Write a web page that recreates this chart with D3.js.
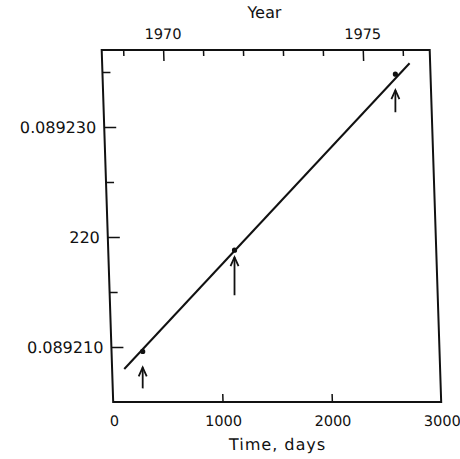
<!DOCTYPE html>
<html>
<head>
<meta charset="utf-8">
<script src="https://cdn.jsdelivr.net/npm/d3@7/dist/d3.min.js"></script>
<style>
  html, body { margin: 0; padding: 0; background: #fff; }
  svg text { font-family: "DejaVu Sans", sans-serif; fill: #111; }
</style>
</head>
<body>
<svg id="chart" width="460" height="459"></svg>
<script>
// Observed epochs (days since start of series) and measured values
const obsDays   = [285, 1155, 2679];
const obsValues = [0.0892096, 0.0892188, 0.0892348];

// Least-squares line through the observations, drawn between its two end days
const fitDays   = [111, 2812];
const fitValues = [0.0892080, 0.0892358];

// Axis ticks
const xTicks      = [0, 1000, 2000, 3000];
const yMajorTicks = [0.089210, 0.089220, 0.089230];
const yMinorTicks = [0.089215, 0.089225, 0.089235];
const yTickLabels = ["0.089210", "220", "0.089230"];
const yearTicks   = [1969, 1970, 1971, 1972, 1973, 1974, 1975, 1976];
const yearLabels  = [1970, 1975];
const yearAtDayZero = 1968.45;
const daysPerYear   = 365.25;

const W = 328, H = 352;
const lean = Math.tan(1.87 * Math.PI / 180);
const svg = d3.select("#chart");
// the plotting frame leans slightly to the right
const g = svg.append("g").attr("transform", "translate(101.7,50) skewX(1.87)");

const x = d3.scaleLinear().domain([0, 3000]).range([0, W]);
const y = d3.scaleLinear().domain([0.089205, 0.089237]).range([H, 0]);
const dayOfYear = yr => (yr - yearAtDayZero) * daysPerYear;

// frame
g.append("rect").attr("x", 0).attr("y", 0).attr("width", W).attr("height", H)
  .attr("fill", "none").attr("stroke", "#111").attr("stroke-width", 2);

// bottom axis: inward ticks, labels below
const bottomAxis = g.append("g").attr("transform", `translate(0,${H})`)
  .call(d3.axisBottom(x).tickValues(xTicks).tickFormat(d3.format("d"))
    .tickSizeInner(-8).tickSizeOuter(0).tickPadding(14));
bottomAxis.select(".domain").remove();
bottomAxis.selectAll(".tick line").attr("stroke", "#111").attr("stroke-width", 1.5)
  .filter(d => d === 0 || d === 3000).remove();
bottomAxis.selectAll(".tick text").attr("font-size", 14.5).attr("font-family", "DejaVu Sans").attr("fill", "#111");

// left axis: major and minor inward ticks
const leftAxis = g.append("g")
  .call(d3.axisLeft(y).tickValues(yMajorTicks).tickSizeInner(-12).tickSizeOuter(0).tickPadding(8)
    .tickFormat((d, i) => yTickLabels[i]));
leftAxis.select(".domain").remove();
leftAxis.selectAll(".tick line").attr("stroke", "#111").attr("stroke-width", 1.5);
leftAxis.selectAll(".tick text").attr("font-size", 16).attr("font-family", "DejaVu Sans").attr("fill", "#111");
g.append("g")
  .call(d3.axisLeft(y).tickValues(yMinorTicks).tickSizeInner(-8).tickSizeOuter(0).tickFormat(""))
  .call(a => a.select(".domain").remove())
  .selectAll(".tick line").attr("stroke", "#111").attr("stroke-width", 1.5);

// top axis: calendar years, longer ticks on labelled years
g.append("g").selectAll("line").data(yearTicks).join("line")
  .attr("x1", d => x(dayOfYear(d))).attr("x2", d => x(dayOfYear(d)))
  .attr("y1", 0).attr("y2", d => yearLabels.includes(d) ? 11 : 6)
  .attr("stroke", "#111").attr("stroke-width", 1.5);
g.append("g").selectAll("text").data(yearLabels).join("text")
  .attr("x", d => x(dayOfYear(d))).attr("y", -11)
  .attr("text-anchor", "middle").attr("font-size", 14.5)
  .text(d => d);

// axis titles
g.append("text").attr("x", W / 2).attr("y", -32).attr("text-anchor", "middle")
  .attr("font-size", 16).text("Year");
g.append("text").attr("x", W / 2 - 1).attr("y", H + 48).attr("text-anchor", "middle")
  .attr("font-size", 16).attr("letter-spacing", 1).text("Time, days");

// fitted line
const line = d3.line().x(d => x(d[0])).y(d => y(d[1]));
g.append("path").datum(d3.zip(fitDays, fitValues))
  .attr("d", line).attr("fill", "none").attr("stroke", "#111").attr("stroke-width", 2);

// observation points
const obs = d3.zip(obsDays, obsValues);
g.append("g").selectAll("circle").data(obs).join("circle")
  .attr("cx", d => x(d[0])).attr("cy", d => y(d[1])).attr("r", 2.6).attr("fill", "#111");

// upright arrows under each observation (undo the frame's lean so they stand vertical)
const arrowGap = [16, 7, 16];
const arrowLen = [21, 38, 22];
const arrows = g.append("g").attr("stroke", "#111").attr("stroke-width", 1.8).attr("fill", "none");
obs.forEach((d, i) => {
  const px = x(d[0]), py = y(d[1]);
  const ux = yy => px - lean * (yy - py);
  const tip = py + arrowGap[i];
  const tail = tip + arrowLen[i];
  arrows.append("line").attr("x1", ux(tip)).attr("x2", ux(tail)).attr("y1", tip).attr("y2", tail);
  arrows.append("path")
    .attr("d", `M${ux(tip + 9) - 4},${tip + 9} L${ux(tip)},${tip} L${ux(tip + 9) + 4},${tip + 9}`)
    .attr("stroke-linejoin", "miter");
});
</script>
</body>
</html>
